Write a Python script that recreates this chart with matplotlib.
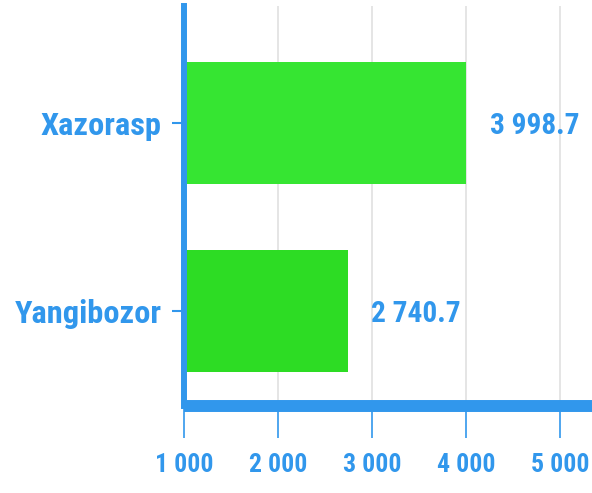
import matplotlib
matplotlib.use('Agg')
import matplotlib.pyplot as plt
from matplotlib import font_manager
from matplotlib.ticker import FuncFormatter

districts = ['Yangibozor', 'Xazorasp']
values = [2740.7, 3998.7]
bar_colors = ['#2ddc24', '#36e532']
x_ticks = [1000, 2000, 3000, 4000, 5000]

blue = '#3197ec'

# pick a narrow font if one is around
fonts = font_manager.fontManager.ttflist
names = {f.name for f in fonts}
stretch = 'normal'
family = 'DejaVu Sans'
for cand in ['Roboto Condensed', 'Liberation Sans Narrow', 'Open Sans Condensed']:
    if cand in names:
        family = cand
        break
else:
    if any(f.name == 'DejaVu Sans' and f.stretch == 'condensed' for f in fonts):
        stretch = 'condensed'
plt.rcParams['font.family'] = [family, 'DejaVu Sans']
plt.rcParams['font.stretch'] = stretch
plt.rcParams['font.weight'] = 'bold'

def fmt(v, pos=None):
    s = '{:,.1f}'.format(v).replace(',', ' ')
    if s.endswith('.0'):
        s = s[:-2]
    return s

fig = plt.figure(figsize=(5.92, 4.93), dpi=100)
ax = fig.add_axes([0.3108, 0.1765, 0.6892, 0.8115])

ypos = list(range(len(districts)))
ax.barh(ypos, values, height=0.65, color=bar_colors, zorder=2)

vlabels = []
for y, v in zip(ypos, values):
    t = ax.annotate(fmt(v), (v, y), xytext=(17, -2), textcoords='offset points',
                    ha='left', va='center', color=blue, fontsize=24, fontweight='bold')
    vlabels.append(t)

ax.set_xlim(1000, 5340)
ax.set_ylim(-0.505, 1.622)
ax.set_xticks(x_ticks)
ax.xaxis.set_major_formatter(FuncFormatter(fmt))
ax.set_yticks(ypos)
ax.set_yticklabels(districts)

ax.grid(axis='x', color='#e0e0e0', linewidth=1.2, zorder=0)
ax.set_axisbelow(True)

for side in ['top', 'right']:
    ax.spines[side].set_visible(False)
ax.spines['left'].set_color(blue)
ax.spines['left'].set_linewidth(4.3)
ax.spines['bottom'].set_color(blue)
ax.spines['bottom'].set_linewidth(8.6)
ax.spines['bottom'].set_capstyle('butt')

ax.tick_params(axis='x', colors=blue, length=23, width=1.2, pad=11, labelsize=20)
ax.tick_params(axis='y', colors=blue, length=9, width=1.5, pad=7, labelsize=20)

# size the text so its width matches the reference
fig.canvas.draw()
r = fig.canvas.get_renderer()
xl = ax.get_xticklabels()[0]
ax.tick_params(axis='x', labelsize=min(30, 20 * 58 / xl.get_window_extent(r).width))
yl = ax.get_yticklabels()[0]
ax.tick_params(axis='y', labelsize=min(32, 20 * 147 / yl.get_window_extent(r).width))
w = vlabels[1].get_window_extent(r).width
for t in vlabels:
    t.set_fontsize(min(34, 24 * 90 / w))
for lab in ax.get_xticklabels() + ax.get_yticklabels():
    lab.set_fontweight('bold')

fig.savefig('out.png', dpi=100)
